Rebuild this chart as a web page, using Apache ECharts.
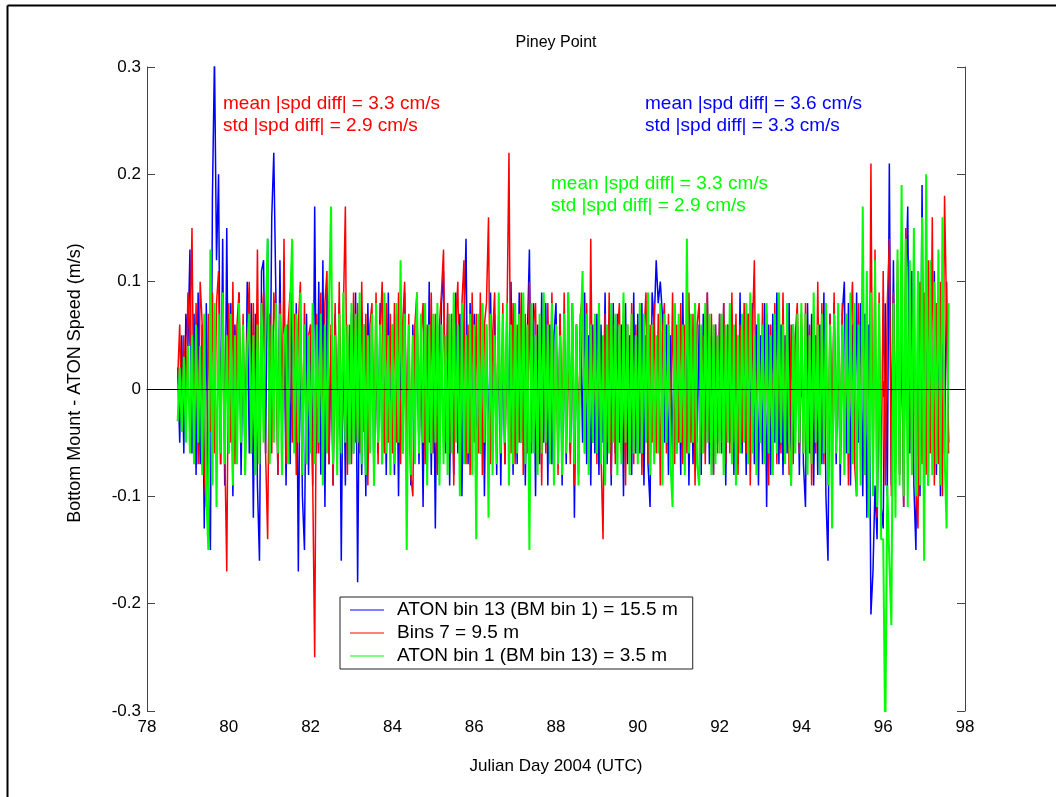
<!DOCTYPE html>
<html><head><meta charset="utf-8">
<script src="https://cdn.jsdelivr.net/npm/echarts/dist/echarts.min.js"></script>
<style>html,body{margin:0;padding:0;background:#fff}#chart{width:1056px;height:797px}</style>
</head><body><div id="chart"></div>
<script>
const titleText = 'Piney Point';
const xAxisName = 'Julian Day 2004 (UTC)';
const yAxisName = 'Bottom Mount - ATON Speed (m/s)';
const seriesNames = ['ATON bin 13 (BM bin 1) = 15.5 m', 'Bins 7 = 9.5 m', 'ATON bin 1 (BM bin 13) = 3.5 m'];
const seriesColors = ['#0000ff', '#ff0000', '#00ff00'];
const statsRed = ['mean |spd diff| = 3.3 cm/s', 'std |spd diff| = 2.9 cm/s'];
const statsBlue = ['mean |spd diff| = 3.6 cm/s', 'std |spd diff| = 3.3 cm/s'];
const statsGreen = ['mean |spd diff| = 3.3 cm/s', 'std |spd diff| = 2.9 cm/s'];
const xMin = 78, xMax = 98, xStep = 2;
const yMin = -0.3, yMax = 0.3, yStep = 0.1;
// sample times: start day and spacing (days)
const t0 = 78.75, dt = 0.05;
// speed differences in cm/s, one row per day (first row 78.75-78.95, last row 97.00-97.60)
const blueCm = [
2,-5,5,-6,7,
4,13,-6,7,-8,9,-7,6,-13,8,-9,-15,18,31,12,20,-7,14,-9,15,
-6,8,-10,6,-5,9,-8,5,-7,10,-6,8,-12,7,-9,-16,11,12,-6,14,
-5,16,22,9,-8,12,-4,7,-9,6,-7,9,-5,8,-17,6,-10,-15,7,-8,
6,-9,17,-6,10,-8,12,-11,9,-7,5,-9,7,-6,8,-16,6,-9,5,-7,
7,-6,9,-18,5,-8,6,-10,8,-5,7,-9,4,-6,8,-7,5,-8,9,-5,
6,-8,7,-10,5,-6,9,-7,4,-9,6,-5,8,-7,5,-11,7,-6,10,-8,
5,-13,6,-7,8,11,-6,7,-9,5,-8,9,-6,7,-10,6,14,-7,8,-6,
7,-9,5,-6,8,-10,6,-7,9,-5,7,-8,6,-9,5,-7,8,-6,10,-8,
6,-7,9,-5,7,-9,5,13,-6,8,-10,6,-7,9,-5,8,-9,6,-7,5,
8,-6,7,-9,5,-7,9,-6,8,-12,6,-8,7,-5,9,-7,5,-9,6,-6,
7,-8,6,-5,9,-7,5,-9,8,-6,7,-5,6,-10,8,-7,5,-8,9,-6,
7,-6,8,-9,5,-7,-11,9,6,12,8,10,7,-5,6,-8,5,-7,8,-6,
6,-8,9,-6,7,-9,5,-7,8,-5,6,-8,7,-6,9,-7,5,-8,6,-5,
7,-6,8,-9,6,-5,7,-8,5,-7,9,-6,6,-8,7,-5,8,-7,6,-9,
5,-7,8,-11,6,-8,7,-5,9,-7,6,-8,5,-6,8,-9,6,-5,7,-8,
6,-7,-11,8,-6,7,-9,5,-8,6,-7,9,-10,-16,7,-6,8,-7,6,-9,
7,10,-6,8,-9,6,-7,9,-5,8,-10,7,-12,6,-21,-17,-9,-14,5,-11,
-13,8,-10,21,-9,12,-7,10,-8,6,-11,9,17,-6,11,-9,-15,8,-10,19,
-7,12,-9,8,-6,11,-8,7,-10,9,-6,10,-5
];
const redCm = [
1,6,-4,5,-3,
9,4,15,-5,8,-7,10,6,-8,-11,7,-4,9,-6,8,11,-7,9,-5,-17,
8,-5,10,-7,6,9,-4,7,-8,5,10,-6,8,-5,13,-7,6,9,-6,-14,
7,-6,9,5,-8,8,-5,14,-7,6,9,-5,7,-8,6,10,-6,8,-7,5,
6,-8,-25,7,-6,9,-5,8,11,-7,6,-9,8,-6,10,-5,7,17,-8,6,
-7,9,-5,8,-6,10,-4,7,-9,6,8,-5,9,-7,5,10,-6,8,-5,7,
-6,8,-5,9,-7,6,10,-5,7,-8,-10,6,9,-6,5,8,-7,6,-5,9,
-6,7,-8,6,9,13,-5,8,-6,7,-9,6,10,-5,8,12,-7,6,-8,9,
-5,7,-6,9,-8,6,8,16,-7,5,9,-6,7,-5,8,-7,6,22,-6,8,
-7,6,-5,9,-8,7,-6,10,-5,6,8,-7,5,-9,7,-6,8,-5,9,-7,
6,-8,7,-5,9,-6,5,-7,8,-9,6,-5,7,9,-6,8,-7,14,-5,6,
-7,8,-6,-14,7,-5,9,-8,6,-7,5,8,-6,7,-9,6,-5,8,-7,6,
-6,7,-8,5,9,-7,6,-5,8,-6,7,-9,5,8,-6,7,-5,9,-7,6,
-5,8,-7,6,-6,9,-5,7,-9,6,8,-6,5,-7,9,-5,7,-8,6,-6,
7,-5,8,-7,6,-6,9,-5,7,-8,6,-5,8,-6,7,-9,5,12,-6,7,
-5,8,-6,7,-9,6,-5,8,-7,6,-6,9,-5,7,-8,6,-7,5,8,-6,
7,-6,8,-5,6,-9,7,-6,10,-5,8,-7,6,-8,7,-5,9,-6,6,-7,
8,-6,7,-9,6,10,-7,-10,8,-6,12,-8,9,-11,21,-9,13,-12,9,-10,
11,-9,8,14,-10,9,-7,12,-8,10,-11,15,-6,9,-8,11,-9,-13,10,-7,
9,-8,12,-6,16,-9,8,-7,10,-10,18,7,-6
];
const greenCm = [
-3,2,-4,3,-5,
4,-6,5,-7,6,-5,4,-8,7,-10,-15,13,-9,8,-11,7,-6,9,-7,5,
-6,7,-9,5,-7,8,-5,6,-8,4,7,-6,5,-8,6,-7,8,-5,6,14,
-7,6,-5,8,-6,7,-8,5,6,-7,8,14,-6,7,-5,9,-8,6,-7,5,
-6,8,-7,6,-5,7,-9,6,-6,8,17,-7,5,-8,7,-6,9,-5,6,-7,
8,-6,7,-5,9,-7,6,-8,5,-6,7,-9,8,-5,6,-7,9,-6,5,-8,
6,-7,8,-5,12,-6,7,-15,6,-8,5,-7,9,-6,7,-5,8,-9,6,-6,
7,-5,8,-9,6,-7,5,-8,7,-6,9,-5,6,-10,8,-7,5,-6,7,-8,
6,-14,7,-6,8,-5,6,-12,7,-8,5,-7,9,-6,7,-5,8,-9,6,-7,
8,-6,7,-5,9,-7,6,-15,8,-6,5,-8,7,-6,9,-5,6,-7,8,-9,
6,-7,5,-8,7,-6,9,-5,8,-7,6,-9,5,11,-6,7,-8,6,-5,7,
-6,8,-7,5,-9,6,-6,8,-5,7,-8,6,-7,9,-5,6,-8,7,-6,5,
-7,8,-6,7,-5,9,-8,6,-7,5,-6,8,-9,7,-5,6,-7,-11,8,-6,
7,-5,6,-8,14,-6,7,-5,8,-7,-9,6,-6,8,-5,7,-8,6,-7,5,
-6,7,-8,6,-5,8,-7,6,-9,5,-6,7,-5,8,-7,9,-6,5,-8,7,
-5,6,-7,8,-6,5,-8,7,-6,9,-5,6,-7,8,-5,-9,6,-6,7,-5,
8,-6,7,-8,5,-7,9,-5,6,-8,7,-6,8,-9,6,-13,7,-6,8,-7,
6,-8,7,-6,9,-7,8,-10,6,-9,17,-8,11,-12,9,-10,12,-11,8,-14,
-14,-33,-9,-16,-22,8,-12,13,-9,19,-10,14,-11,12,-8,15,-10,11,-9,16,
-16,20,-9,12,-8,10,-7,13,-9,16,-6,-13,8
];

const FONT = "'Liberation Sans', Arial, sans-serif";
const toPairs = arr => arr.map((v, i) => [+(t0 + i * dt).toFixed(3), v / 100]);
const seriesData = [blueCm, redCm, greenCm].map(toPairs);
const lineWidths = [1.5, 1.5, 2];

const chart = echarts.init(document.getElementById('chart'), null, {renderer: 'canvas'});
const G = {left: 147, right: 91, top: 67, bottom: 86};
const axisLineStyle = {color: '#444', width: 1};
const fmtY = v => String(Math.round(v * 10) / 10);

const series = seriesData.map((d, k) => ({
  name: seriesNames[k], type: 'line', data: d, showSymbol: false, symbol: 'none',
  clip: true, xAxisIndex: 0, yAxisIndex: 0,
  lineStyle: {color: seriesColors[k], width: lineWidths[k]}, itemStyle: {color: seriesColors[k]},
  z: 2 + k, silent: true, animation: false
}));
series[2].markLine = {
  silent: true, symbol: ['none', 'none'], label: {show: false}, animation: false,
  lineStyle: {color: '#000', width: 1, type: 'solid'}, data: [{yAxis: 0}]
};

function statText(lines, x, y, color) {
  return lines.map((t, i) => ({
    type: 'text', x: x, y: y + i * 22, z: 100,
    style: {text: t, fill: color, font: '19px ' + FONT, textAlign: 'left', verticalAlign: 'middle'}
  }));
}

chart.setOption({
  backgroundColor: '#fff',
  animation: false,
  grid: G,
  xAxis: [
    {type: 'value', min: xMin, max: xMax, interval: xStep, position: 'bottom',
     axisLine: {show: true, lineStyle: axisLineStyle}, splitLine: {show: false},
     axisTick: {show: true, inside: true, length: 8, lineStyle: axisLineStyle},
     axisLabel: {color: '#000', fontSize: 17, fontFamily: FONT, margin: 8}},
    {type: 'value', min: xMin, max: xMax, interval: xStep, position: 'top',
     axisLine: {show: true, lineStyle: axisLineStyle}, splitLine: {show: false},
     axisTick: {show: true, inside: true, length: 8, lineStyle: axisLineStyle},
     axisLabel: {show: false}}
  ],
  yAxis: [
    {type: 'value', min: yMin, max: yMax, interval: yStep, position: 'left',
     axisLine: {show: true, lineStyle: axisLineStyle}, splitLine: {show: false},
     axisTick: {show: true, inside: true, length: 8, lineStyle: axisLineStyle},
     axisLabel: {color: '#000', fontSize: 17, fontFamily: FONT, margin: 6, formatter: fmtY}},
    {type: 'value', min: yMin, max: yMax, interval: yStep, position: 'right',
     axisLine: {show: true, lineStyle: axisLineStyle}, splitLine: {show: false},
     axisTick: {show: true, inside: true, length: 8, lineStyle: axisLineStyle},
     axisLabel: {show: false}}
  ],
  legend: {
    data: seriesNames, orient: 'vertical', left: 340, top: 597,
    padding: [2, 15, 2, 10], itemGap: 1, itemWidth: 34, itemHeight: 1, icon: 'rect',
    borderColor: '#222', borderWidth: 1, borderRadius: 0, backgroundColor: '#fff',
    selectedMode: false, z: 50,
    textStyle: {color: '#000', fontSize: 19, fontFamily: FONT, lineHeight: 22, padding: [0, 0, 0, 8]}
  },
  graphic: [
    {type: 'line', z: 100, shape: {x1: 7.5, y1: 5.5, x2: 1056, y2: 5.5}, style: {stroke: '#000', lineWidth: 2}},
    {type: 'line', z: 100, shape: {x1: 7.5, y1: 5.5, x2: 7.5, y2: 797}, style: {stroke: '#000', lineWidth: 2}},
    {type: 'text', x: 556, y: 43, z: 100, style: {text: titleText, fill: '#000', font: '16px ' + FONT, textAlign: 'center', verticalAlign: 'middle'}},
    {type: 'text', x: 556, y: 766, z: 100, style: {text: xAxisName, fill: '#000', font: '17px ' + FONT, textAlign: 'center', verticalAlign: 'middle'}},
    {type: 'text', x: 75, y: 383, z: 100, rotation: Math.PI / 2, style: {text: yAxisName, fill: '#000', font: '18px ' + FONT, textAlign: 'center', verticalAlign: 'middle'}}
  ].concat(statText(statsRed, 223, 104, '#ff0000'))
   .concat(statText(statsBlue, 645, 104, '#0000ff'))
   .concat(statText(statsGreen, 551, 184, '#00ff00')),
  series: series
});
</script>
</body></html>
